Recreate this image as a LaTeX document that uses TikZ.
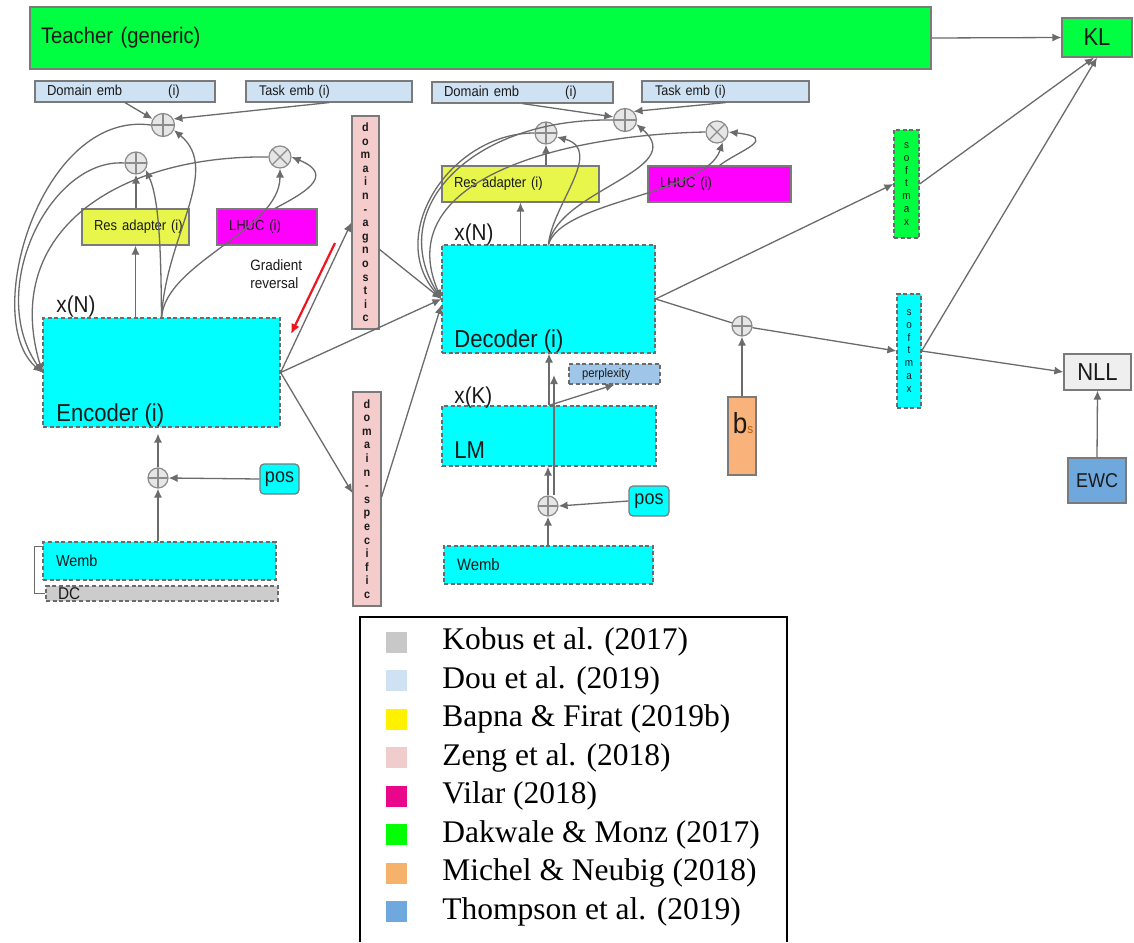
\documentclass[tikz,border=0pt]{standalone}
\usepackage{fontspec}
\setmainfont{Liberation Sans}[FakeStretch=0.9]
\newfontfamily\legendfont{Liberation Serif}
\usepackage{xcolor}
\usepackage{tikz}
\usetikzlibrary{arrows.meta, calc}
\definecolor{TeacherGreen}{HTML}{00FF40}
\definecolor{LayerCyan}{HTML}{00FFFF}
\definecolor{EmbBlue}{HTML}{CFE2F3}
\definecolor{ResYellow}{HTML}{E8F54A}
\definecolor{LhucMagenta}{HTML}{FF00FF}
\definecolor{ZengPink}{HTML}{F4CCCC}
\definecolor{PerpBlue}{HTML}{9FC5E8}
\definecolor{BiasOrange}{HTML}{F9B27A}
\definecolor{BiasBrown}{HTML}{B45F06}
\definecolor{EwcBlue}{HTML}{6FA8DC}
\definecolor{NllGray}{HTML}{EFEFEF}
\definecolor{DcGray}{HTML}{CCCCCC}
\definecolor{OpFill}{HTML}{E6E6E6}
\definecolor{OpEdge}{HTML}{8C8C8C}
\definecolor{EdgeGray}{HTML}{7A7A7A}
\definecolor{LineGray}{HTML}{6B6B6B}
\definecolor{Ink}{HTML}{1A1A1A}
\definecolor{GradRed}{HTML}{F0141E}
% legend swatches
\definecolor{KobusGray}{HTML}{C8C8C8}
\definecolor{DouBlue}{HTML}{CFE2F3}
\definecolor{BapnaYellow}{HTML}{FFF200}
\definecolor{ZengRose}{HTML}{F0CCCC}
\definecolor{VilarPink}{HTML}{E9068B}
\definecolor{DakwaleGreen}{HTML}{00FF00}
\definecolor{MichelOrange}{HTML}{F6B26B}
\definecolor{ThompsonBlue}{HTML}{6FA8DC}

\begin{document}
\begin{tikzpicture}[x=0.5pt, y=-0.5pt, every node/.style={inner sep=0pt, text=Ink}]
  \tikzstyle{blk}=[rectangle, draw=EdgeGray, line width=0.6pt, font=\fontsize{7.25}{8.7}\selectfont]
  \tikzstyle{dsh}=[draw=LineGray, dash pattern=on 2pt off 1.3pt]
  \tikzstyle{lbox}=[blk, align=left, inner xsep=6pt]
  \tikzstyle{bigtxt}=[font=\fontsize{12.25}{14}\selectfont]
  \tikzstyle{vtxt}=[align=center, font=\fontsize{6}{6.8}\selectfont\bfseries]
  \tikzstyle{smtxt}=[align=center, font=\fontsize{5.5}{6.4}\selectfont]
  \tikzstyle{arrow}=[-{Latex[length=4.5pt,width=4pt]}, draw=LineGray, line width=0.65pt]
  \tikzstyle{gradarrow}=[-{Latex[length=5pt,width=4.5pt]}, draw=GradRed, line width=1.1pt]
  \tikzstyle{opnode}=[circle, draw=OpEdge, fill=OpFill, line width=0.6pt, minimum size=11pt]
  \tikzstyle{oplus}=[opnode, path picture={\draw[OpEdge, line width=0.6pt] (path picture bounding box.north) -- (path picture bounding box.south) (path picture bounding box.west) -- (path picture bounding box.east);}]
  \tikzstyle{otimes}=[opnode, path picture={\draw[OpEdge, line width=0.6pt] (path picture bounding box.north west) -- (path picture bounding box.south east) (path picture bounding box.north east) -- (path picture bounding box.south west);}]

  \fill[white] (0,0) rectangle (1134,942);
  \useasboundingbox (0,0) rectangle (1134,942);

  % teacher and losses
  \node[lbox, fill=TeacherGreen, minimum height=31pt, text width=439.5pt, inner xsep=5.5pt, font=\fontsize{11.25}{13}\selectfont] (teacher) at (480.5,38) {Teacher (generic)};
  \node[blk, fill=TeacherGreen, minimum width=35pt, minimum height=19.5pt, bigtxt] (kl) at (1097,37.5) {KL};
  \node[blk, fill=NllGray, minimum width=33.5pt, minimum height=18pt, bigtxt] (nll) at (1097.5,372) {NLL};
  \node[blk, fill=EwcBlue, minimum width=29pt, minimum height=22.5pt, font=\fontsize{10}{12}\selectfont] (ewc) at (1097,480.5) {EWC};

  % embeddings for the adapters
  \node[lbox, fill=EmbBlue, text width=78pt, minimum height=10.5pt] (domEmbA) at (125,91.5) {Domain~emb\hspace{23pt}(i)};
  \node[lbox, fill=EmbBlue, text width=70pt, inner xsep=6.5pt, minimum height=10.5pt, font=\fontsize{7}{8.4}\selectfont] (taskEmbA) at (329,91.5) {Task~emb~(i)};
  \node[lbox, fill=EmbBlue, text width=78.5pt, minimum height=10.5pt] (domEmbB) at (522.5,92.5) {Domain~emb\hspace{23pt}(i)};
  \node[lbox, fill=EmbBlue, text width=70.5pt, inner xsep=6.5pt, minimum height=10.5pt, font=\fontsize{7}{8.4}\selectfont] (taskEmbB) at (725.5,91.5) {Task~emb~(i)};

  \node[oplus, minimum size=11.5pt] (addEmbA) at (163,125) {};
  \node[oplus] (addResA) at (136,163) {};
  \node[otimes] (mulA) at (280,157) {};
  \node[oplus, minimum size=11.5pt] (addEmbB) at (625,120) {};
  \node[oplus] (addResB) at (546,133) {};
  \node[otimes] (mulB) at (717,132) {};

  \node[lbox, fill=ResYellow, text width=41.5pt, minimum height=18pt] (resA) at (135.5,227) {Res~adapter~(i)};
  \node[lbox, fill=LhucMagenta, text width=38pt, minimum height=18pt] (lhucA) at (267,227) {LHUC~(i)};
  \node[lbox, fill=ResYellow, text width=66.5pt, minimum height=18pt] (resB) at (520.5,184) {Res~adapter~(i)};
  \node[lbox, fill=LhucMagenta, text width=59.5pt, minimum height=18pt] (lhucB) at (719.5,184) {LHUC~(i)};

  % encoder side
  \node[blk, dsh, fill=LayerCyan, minimum width=118.5pt, minimum height=54.5pt] (enc) at (161.5,372.5) {};
  \node[bigtxt, anchor=base west] (encTxt) at (56,421) {Encoder (i)};
  \node[bigtxt, anchor=base west, font=\fontsize{11.5}{14}\selectfont] (encRep) at (56,312) {x(N)};
  \node[oplus, minimum size=10pt] (addPosA) at (158,478) {};
  \node[blk, fill=LayerCyan, rounded corners=2pt, minimum width=19.5pt, minimum height=15pt, font=\fontsize{10}{12}\selectfont] (posA) at (279.5,479) {pos};
  \node[lbox, dsh, fill=LayerCyan, text width=103.5pt, inner xsep=6.5pt, minimum height=19pt, font=\fontsize{8}{9.6}\selectfont] (wembA) at (159.5,561) {Wemb};
  \node[lbox, dsh, fill=DcGray, text width=104pt, minimum height=7.5pt, font=\fontsize{8.5}{9}\selectfont] (dc) at (162,593.5) {DC};

  \node[blk, fill=ZengPink, minimum width=13.5pt, minimum height=106.5pt, vtxt] (domAg) at (365.5,222.5) {d\\o\\m\\a\\i\\n\\-\\a\\g\\n\\o\\s\\t\\i\\c};
  \node[blk, fill=ZengPink, minimum width=14pt, minimum height=107pt, vtxt] (domSp) at (367,499) {d\\o\\m\\a\\i\\n\\-\\s\\p\\e\\c\\i\\f\\i\\c};
  \node[align=left, anchor=west, font=\fontsize{7.5}{9}\selectfont] (gradTxt) at (250,274) {Gradient\\reversal};

  % decoder side
  \node[blk, dsh, fill=LayerCyan, minimum width=106.5pt, minimum height=54pt] (dec) at (548.5,299) {};
  \node[bigtxt, anchor=base west] (decTxt) at (454,347) {Decoder (i)};
  \node[bigtxt, anchor=base west, font=\fontsize{11.5}{14}\selectfont] (decRep) at (454,240) {x(N)};
  \node[blk, dsh, fill=LayerCyan, minimum width=107pt, minimum height=30pt] (lm) at (549,436) {};
  \node[bigtxt, anchor=base west] (lmTxt) at (454,458) {LM};
  \node[bigtxt, anchor=base west, font=\fontsize{11.5}{14}\selectfont] (lmRep) at (454,403) {x(K)};
  \node[lbox, dsh, fill=PerpBlue, text width=32.5pt, inner xsep=6.5pt, minimum height=10pt, font=\fontsize{6.25}{7.5}\selectfont] (perp) at (614.5,374) {perplexity};
  \node[oplus, minimum size=10pt] (addPosB) at (548,506) {};
  \node[blk, fill=LayerCyan, rounded corners=2pt, minimum width=20pt, minimum height=15pt, font=\fontsize{10}{12}\selectfont] (posB) at (649,501) {pos};
  \node[lbox, dsh, fill=LayerCyan, text width=91.5pt, inner xsep=6.5pt, minimum height=19pt, font=\fontsize{8.25}{9.9}\selectfont] (wembB) at (548.5,565) {Wemb};

  % output side
  \node[oplus, minimum size=10pt] (addBias) at (742,326) {};
  \node[blk, fill=BiasOrange, minimum width=14pt, minimum height=39pt] (bias) at (742,436) {};
  \node[anchor=base] (biasTxt) at (743,433) {\fontsize{14.5}{15}\selectfont b\fontsize{6.5}{7}\selectfont\textcolor{BiasBrown}{s}};
  \node[blk, dsh, fill=TeacherGreen, minimum width=12.5pt, minimum height=54pt, smtxt] (smT) at (906.5,184) {s\\o\\f\\t\\m\\a\\x};
  \node[blk, dsh, fill=LayerCyan, minimum width=12pt, minimum height=57pt, smtxt] (smS) at (909,351) {s\\o\\f\\t\\m\\a\\x};

  % encoder adapters
  \draw[arrow] (enc.north -| resA.south) -- (resA.south);
  \draw[arrow] (resA.north -| addResA.south) -- (addResA.south);
  \draw[arrow] (enc.north) .. controls (161,260) and (160,200) .. (addResA.-35);
  \draw[arrow] (enc.north) .. controls (166,235) and (222,170) .. (addEmbA.-25);
  \draw[arrow] (enc.north) .. controls (166,262) and (280,230) .. (mulA.south);
  \draw[arrow] ([xshift=4pt]lhucA.north) .. controls (300,195) and (338,176) .. (mulA.east);
  \draw[arrow] (domEmbA.south) -- (addEmbA.150);
  \draw[arrow] (taskEmbA.south) -- (addEmbA.30);
  \draw[arrow] (addEmbA.west) .. controls (40,110) and (-20,320) .. (enc.west);
  \draw[arrow] (addResA.west) .. controls (50,158) and (-15,290) .. (enc.west);
  \draw[arrow] (mulA.west) .. controls (120,155) and (0,230) .. (enc.west);

  % decoder adapters
  \draw[arrow] (dec.north -| resB.south) -- (resB.south);
  \draw[arrow] (resB.north -| addResB.south) -- (addResB.south);
  \draw[arrow] (dec.north) .. controls (552,205) and (605,150) .. (addResB.-20);
  \draw[arrow] (dec.north) .. controls (558,190) and (690,170) .. (addEmbB.-20);
  \draw[arrow] (dec.north) .. controls (562,200) and (705,195) .. (mulB.-60);
  \draw[arrow] (lhucB.north) .. controls (740,150) and (780,138) .. (mulB.east);
  \draw[arrow] (domEmbB.south) -- (addEmbB.165);
  \draw[arrow] (taskEmbB.south) -- (addEmbB.45);
  \draw[arrow] (addEmbB.west) .. controls (470,118) and (385,210) .. (dec.west);
  \draw[arrow] (addResB.west) .. controls (450,133) and (385,235) .. (dec.west);
  \draw[arrow] (mulB.west) .. controls (560,135) and (390,180) .. (dec.west);

  % encoder to decoder
  \draw[arrow] (enc.east) -- (domAg.west);
  \draw[arrow] (enc.east) -- (dec.west);
  \draw[arrow] (enc.east) -- ([yshift=3pt]domSp.west);
  \draw[arrow] ([yshift=-13.5pt]domAg.east) -- (dec.west);
  \draw[arrow] ([yshift=1pt]domSp.east) -- ([yshift=-3pt]dec.west);
  \coordinate (gradFrom) at (335,243);
  \coordinate (gradTo) at (291,334);
  \draw[gradarrow] (gradFrom) -- (gradTo);

  % inputs
  \draw[arrow] (wembA.north -| addPosA.south) -- (addPosA.south);
  \draw[arrow] (posA.west) -- (addPosA.east);
  \draw[arrow] (addPosA.north) -- ($(addPosA.north |- enc.south)+(0,6)$);
  \draw[line width=0.6pt, draw=LineGray] ([yshift=-2.5pt]wembA.north west) -- ++(-8,0) |- (dc.west);
  \draw[arrow] (wembB.north -| addPosB.south) -- (addPosB.south);
  \draw[arrow] (posB.west) -- (addPosB.east);
  \draw[arrow] (addPosB.north) -- (lm.south -| addPosB.north);
  \coordinate (skipTip) at (554,375);
  \draw[arrow] (addPosB.north -| skipTip) -- (skipTip);
  \draw[arrow] (lm.north) -- (lm.north |- dec.south);
  \draw[arrow] (lm.north) -- (perp.south);

  % outputs and losses
  \draw[arrow] (dec.east) -- (smT.west);
  \draw[arrow] (dec.east) -- (addBias) -- (smS.west);
  \draw[arrow] (bias.north) -- (addBias.south);
  \draw[arrow] (smT.east) -- ([xshift=-1.5pt]kl.south);
  \draw[arrow] (smS.east) -- (kl.south);
  \draw[arrow] (smS.east) -- (nll.west);
  \draw[arrow] (ewc.north) -- (nll.south);
  \draw[arrow] (teacher.east) -- (kl.west);

  % legend
  \draw[line width=0.6pt, draw=black] (360,942) |- (787,617) -- (787,942);
  \foreach \col/\who [count=\i from 0] in {KobusGray/Kobus et al. (2017), DouBlue/Dou et al. (2019), BapnaYellow/Bapna \& Firat (2019b), ZengRose/Zeng et al. (2018), VilarPink/Vilar (2018), DakwaleGreen/Dakwale \& Monz (2017), MichelOrange/Michel \& Neubig (2018), ThompsonBlue/Thompson et al. (2019)} {
    \fill[\col] (386,{631.5+38.5*\i}) rectangle ++(21,21);
    \node[anchor=west, text=black, font=\legendfont\fontsize{15.75}{18}\selectfont] (leg\i) at (442,{642+38.5*\i}) {\who};
  }
\end{tikzpicture}
\end{document}
